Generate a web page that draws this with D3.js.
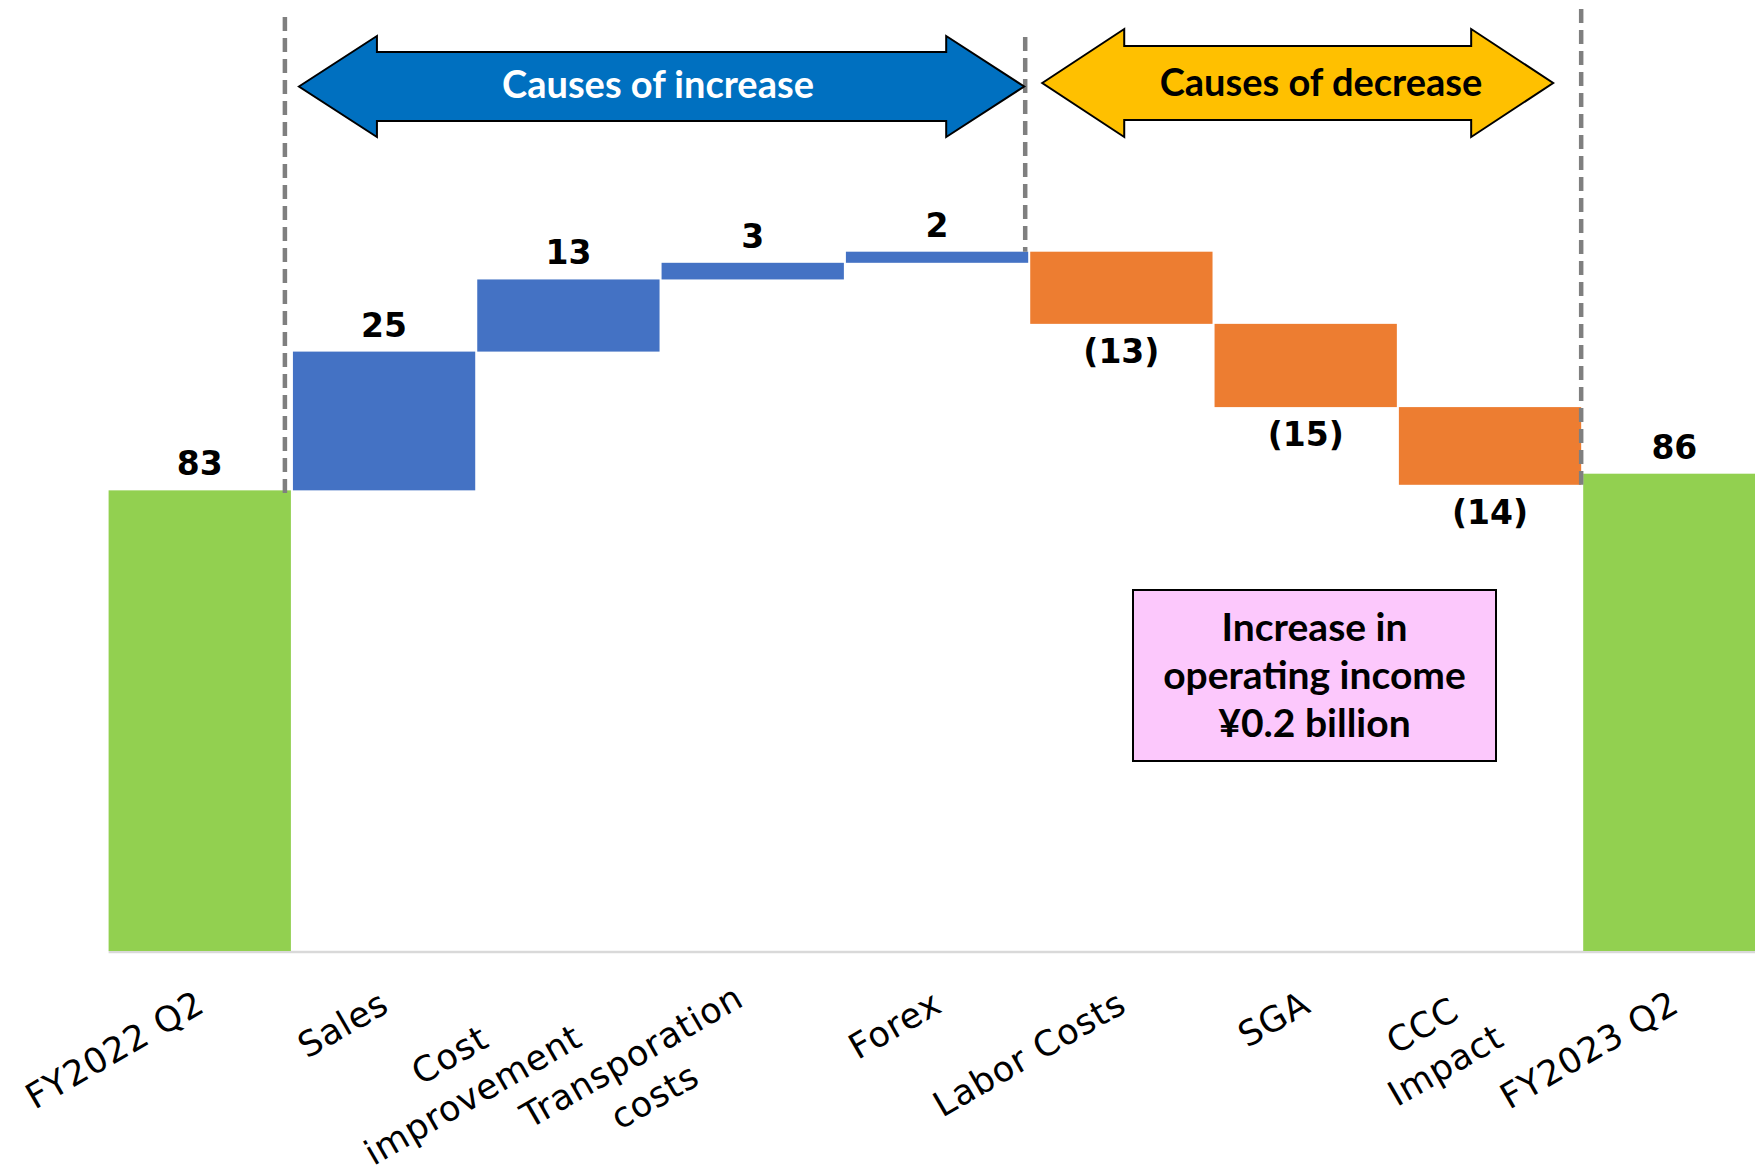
<!DOCTYPE html>
<html>
<head>
<meta charset="utf-8">
<script src="https://cdn.jsdelivr.net/npm/d3@7"></script>
<style>
  html, body { margin: 0; padding: 0; background: #ffffff; }
  svg { display: block; }
</style>
</head>
<body>
<svg id="chart" width="1755" height="1175"></svg>
<script>
// Operating income bridge, FY2022 Q2 -> FY2023 Q2 (¥100 million)
const categories = ["FY2022 Q2", "Sales", "Cost improvement", "Transporation costs", "Forex",
                    "Labor Costs", "SGA", "CCC Impact", "FY2023 Q2"];
const axisLabelLines = [["FY2022 Q2"], ["Sales"], ["Cost", "improvement"], ["Transporation", "costs"],
                        ["Forex"], ["Labor Costs"], ["SGA"], ["CCC", "Impact"], ["FY2023 Q2"]];
const values = [83, 25, 13, 3, 2, -13, -15, -14, 86];
const kinds = ["total", "up", "up", "up", "up", "down", "down", "down", "total"];
const valueLabels = ["83", "25", "13", "3", "2", "(13)", "(15)", "(14)", "86"];
const bandTitles = ["Causes of increase", "Causes of decrease"];
const noteLines = ["Increase in", "operating income", "¥0.2 billion"];

const colors = { total: "#92D050", up: "#4472C4", down: "#ED7D31" };

const svg = d3.select("#chart");

// Scales
const x = d3.scaleBand().domain(categories).range([108.6, 1765.5]).paddingInner(0.011).paddingOuter(0);
const y = d3.scaleLinear().domain([0, 150]).range([951, 951 - 150 * 5.55]);

// Waterfall steps: totals stand on zero, deltas float from the running sum
let running = 0;
const steps = categories.map((c, i) => {
  const v = values[i];
  let lo, hi;
  if (kinds[i] === "total") { lo = 0; hi = v; running = v; }
  else { const start = running; running += v; lo = Math.min(start, running); hi = Math.max(start, running); }
  return { cat: c, kind: kinds[i], value: v, lo, hi, label: valueLabels[i], lines: axisLabelLines[i] };
});

// Axis baseline
svg.append("line")
  .attr("x1", x(categories[0])).attr("x2", 1755)
  .attr("y1", y(0) + 1).attr("y2", y(0) + 1)
  .attr("stroke", "#D9D9D9").attr("stroke-width", 2.5);

// Bars
svg.append("g").selectAll("rect").data(steps).join("rect")
  .attr("x", d => x(d.cat))
  .attr("width", x.bandwidth())
  .attr("y", d => y(d.hi))
  .attr("height", d => y(d.lo) - y(d.hi))
  .attr("fill", d => colors[d.kind]);

// Value labels: above for totals/increases, below for decreases
svg.append("g").selectAll("text").data(steps).join("text")
  .attr("x", d => x(d.cat) + x.bandwidth() / 2)
  .attr("y", d => d.kind === "down" ? y(d.lo) + 39 : y(d.hi) - 15)
  .attr("text-anchor", "middle")
  .attr("font-family", "DejaVu Sans, Verdana, sans-serif")
  .attr("font-weight", "bold")
  .attr("font-size", 33)
  .attr("fill", "#000")
  .text(d => d.label);

// Group dividers (dashed)
const stepByCat = Object.fromEntries(steps.map(s => [s.cat, s]));
const dividers = [
  { x: x("FY2022 Q2") + x.bandwidth() - 6, y1: 17, y2: y(stepByCat["FY2022 Q2"].hi) + 4 },
  { x: x("Forex") + x.bandwidth() - 3, y1: 37, y2: y(stepByCat["Forex"].hi) },
  { x: x("CCC Impact") + x.bandwidth(), y1: 9, y2: y(stepByCat["CCC Impact"].lo) }
];
svg.append("g").selectAll("line").data(dividers).join("line")
  .attr("x1", d => d.x).attr("x2", d => d.x)
  .attr("y1", d => d.y1).attr("y2", d => d.y2)
  .attr("stroke", "#7F7F7F").attr("stroke-width", 4.5)
  .attr("stroke-dasharray", "14,7");

// Double-headed arrows naming the two groups
function doubleArrow(x0, x1, cy, headHalf, shaftHalf, headLen) {
  const p = [
    [x0, cy], [x0 + headLen, cy - headHalf], [x0 + headLen, cy - shaftHalf],
    [x1 - headLen, cy - shaftHalf], [x1 - headLen, cy - headHalf], [x1, cy],
    [x1 - headLen, cy + headHalf], [x1 - headLen, cy + shaftHalf],
    [x0 + headLen, cy + shaftHalf], [x0 + headLen, cy + headHalf]
  ];
  return d3.line()(p) + "Z";
}
const arrows = [
  { x0: x("Sales") + 6, x1: x("Forex") + x.bandwidth() - 4, cy: 86.5, headHalf: 50.5, shaftHalf: 34.5, headLen: 78,
    fill: "#0070C0", text: bandTitles[0], textColor: "#ffffff", tx: 658, ty: 98 },
  { x0: x("Labor Costs") + 12, x1: x("CCC Impact") + x.bandwidth() - 28, cy: 83, headHalf: 54, shaftHalf: 37, headLen: 82,
    fill: "#FFC000", text: bandTitles[1], textColor: "#000000", tx: 1321, ty: 96 }
];
const ag = svg.append("g").selectAll("g").data(arrows).join("g");
ag.append("path")
  .attr("d", d => doubleArrow(d.x0, d.x1, d.cy, d.headHalf, d.shaftHalf, d.headLen))
  .attr("fill", d => d.fill).attr("stroke", "#000").attr("stroke-width", 2)
  .attr("stroke-linejoin", "miter");
ag.append("text")
  .attr("x", d => d.tx).attr("y", d => d.ty)
  .attr("text-anchor", "middle")
  .attr("font-family", "Lato, sans-serif").attr("font-weight", "bold").attr("font-size", 38)
  .attr("fill", d => d.textColor)
  .text(d => d.text);

// Summary note box
const note = svg.append("g");
note.append("rect")
  .attr("x", 1133).attr("y", 590).attr("width", 363).attr("height", 171)
  .attr("fill", "#FCC8FC").attr("stroke", "#000").attr("stroke-width", 2);
note.selectAll("text").data(noteLines).join("text")
  .attr("x", 1314.5).attr("y", (d, i) => 641 + i * 48)
  .attr("text-anchor", "middle")
  .attr("font-family", "Lato, sans-serif").attr("font-weight", "bold").attr("font-size", 39)
  .attr("fill", "#000")
  .text(d => d);

// Rotated category labels; lines centred within each label block
const fs = 35, lh = 46, capH = 26, angle = -30;
const lg = svg.append("g").selectAll("g").data(steps).join("g")
  .attr("transform", d => {
    const extra = d.lines.length - 1;
    const cx = x(d.cat) + x.bandwidth() / 2 - 6 - extra * 14;
    const cy = 988 - extra * 6;
    return `translate(${cx},${cy}) rotate(${angle})`;
  });
lg.each(function(d) {
  const g = d3.select(this);
  const texts = d.lines.map((line, i) => g.append("text")
    .attr("y", capH + i * lh)
    .attr("text-anchor", "middle")
    .attr("font-family", "DejaVu Sans, Verdana, sans-serif")
    .attr("font-size", fs)
    .attr("letter-spacing", 0.8)
    .attr("fill", "#000")
    .text(line));
  const w = d3.max(texts, t => t.node().getComputedTextLength());
  texts.forEach(t => t.attr("x", -w / 2));
});
</script>
</body>
</html>
